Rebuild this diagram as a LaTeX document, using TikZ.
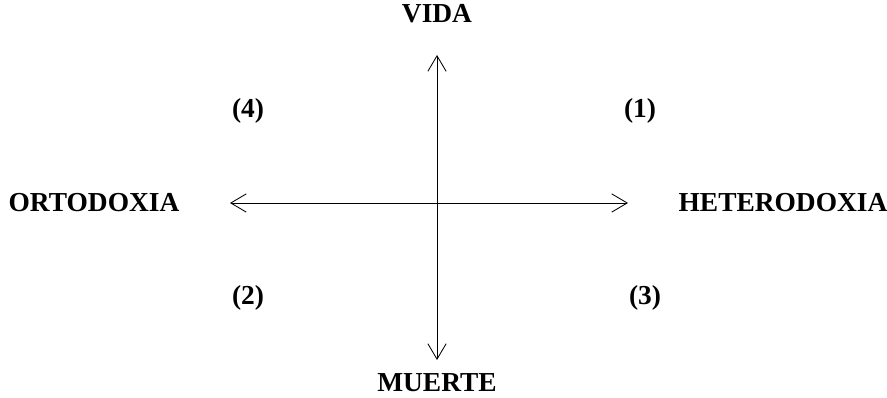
\documentclass[tikz,border=0pt]{standalone}
\usepackage{fontspec}
\setmainfont{Liberation Serif}
\usetikzlibrary{arrows.meta}
\begin{document}
\begin{tikzpicture}[x=0.025cm,y=-0.025cm,
    axis/.style={line width=0.6pt,{Straight Barb[length=11pt,width=13pt,line width=0.6pt]}-{Straight Barb[length=11pt,width=13pt,line width=0.6pt]}},
    pole/.style={inner sep=0pt,font=\fontsize{19.5}{24}\selectfont\bfseries},
    quad/.style={inner sep=0pt,font=\fontsize{19.5}{24}\selectfont\bfseries}]
        \useasboundingbox (0,0) rectangle (887,398);
        % Ends of the axes
        \coordinate (top) at (437,55);
        \coordinate (bottom) at (437,360);
        \coordinate (left) at (230,203);
        \coordinate (right) at (628,203);
        
        % Draw the axes
        \draw[axis] (bottom) -- (top);
        \draw[axis] (left) -- (right);
        
        % Poles
        \node[pole] (vida) at (437,14) {VIDA};
        \node[pole] (muerte) at (437,383) {MUERTE};
        \node[pole] (orto) at (94,203) {ORTODOXIA};
        \node[pole] (hetero) at (783,203) {HETERODOXIA};
        
        % Quadrants
        \foreach \x/\y/\num in {640/111/1, 248/298/2, 645/298/3, 248/111/4} {
            \node[quad] (q\num) at (\x,\y) {(\num)};
        };
    \end{tikzpicture}
\end{document}
